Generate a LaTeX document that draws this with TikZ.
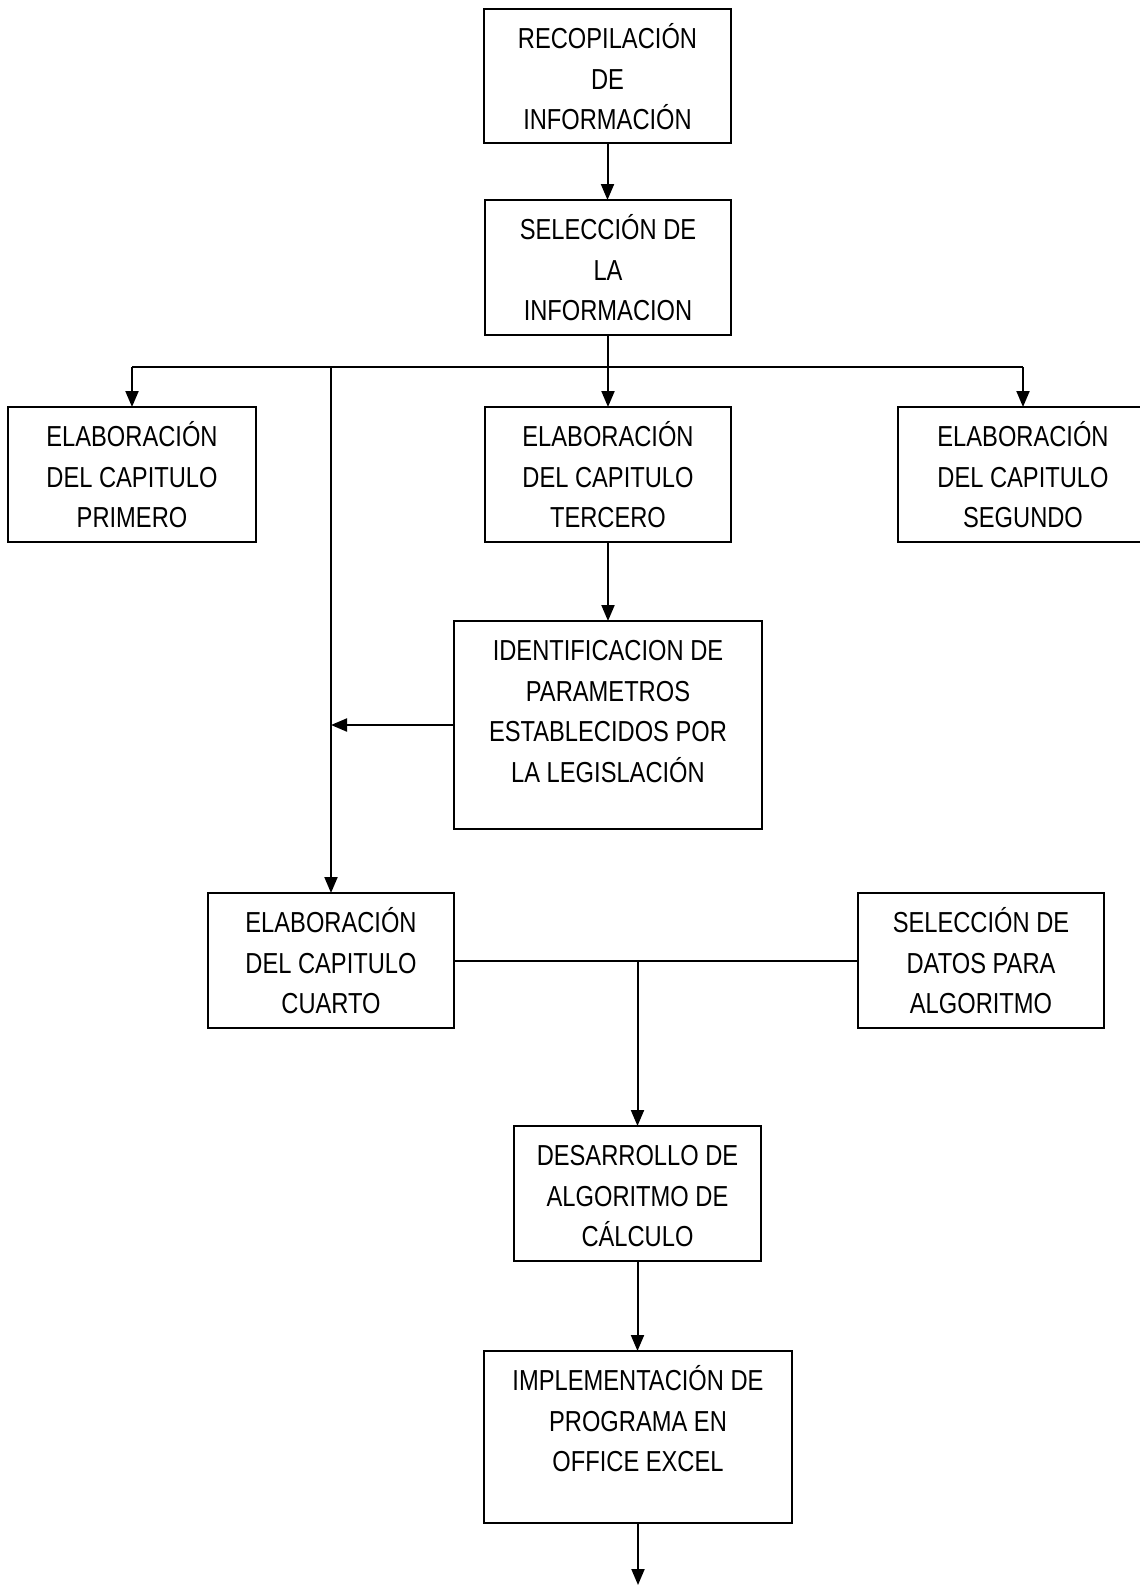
\documentclass[tikz,border=0pt]{standalone}
\usepackage{fontspec}
\setmainfont{Liberation Sans}[FakeStretch=0.82]
\usetikzlibrary{arrows.meta}
\newcommand\boxtxt[1]{\begin{tabular}[t]{@{}c@{}}#1\end{tabular}}
\tikzset{
  flowbox/.style={draw, line width=1pt, inner sep=0pt, outer sep=0pt, anchor=north,
    font=\fontsize{14.45}{20.25}\selectfont, text height=19.75pt},
  conn/.style={line width=1pt},
  arr/.style={conn, -{Triangle[length=8pt,width=6.5pt]}}
}
\begin{document}
\begin{tikzpicture}[x=0.5pt,y=-0.5pt]
\clip (0,0) rectangle (1140,1585);
\fill[white] (0,0) rectangle (1140,1585);

\node[flowbox, minimum width=123.5pt, text depth=47.25pt] (b1) at (607.5,9) {\boxtxt{RECOPILACIÓN\\DE\\INFORMACIÓN}};
\node[flowbox, minimum width=123pt, text depth=47.75pt] (b2) at (608,200) {\boxtxt{SELECCIÓN DE\\LA\\INFORMACION}};
\node[flowbox, minimum width=124pt, text depth=47.75pt] (prim) at (132,407) {\boxtxt{ELABORACIÓN\\DEL CAPITULO\\PRIMERO}};
\node[flowbox, minimum width=123pt, text depth=47.75pt] (terc) at (608,407) {\boxtxt{ELABORACIÓN\\DEL CAPITULO\\TERCERO}};
\node[flowbox, minimum width=125pt, text depth=47.75pt] (seg) at (1023,407) {\boxtxt{ELABORACIÓN\\DEL CAPITULO\\SEGUNDO}};
\node[flowbox, minimum width=154pt, text depth=84.25pt] (ident) at (608,621) {\boxtxt{IDENTIFICACION DE\\PARAMETROS\\ESTABLECIDOS POR\\LA LEGISLACIÓN}};
\node[flowbox, minimum width=123pt, text depth=47.75pt] (cuarto) at (331,893) {\boxtxt{ELABORACIÓN\\DEL CAPITULO\\CUARTO}};
\node[flowbox, minimum width=123pt, text depth=47.75pt] (datos) at (981,893) {\boxtxt{SELECCIÓN DE\\DATOS PARA\\ALGORITMO}};
\node[flowbox, minimum width=123.5pt, text depth=47.75pt] (des) at (637.5,1126) {\boxtxt{DESARROLLO DE\\ALGORITMO DE\\CÁLCULO}};
\node[flowbox, minimum width=154pt, text depth=66.25pt] (impl) at (638,1351) {\boxtxt{IMPLEMENTACIÓN DE\\PROGRAMA EN\\OFFICE EXCEL}};

\coordinate (hy) at (0,367);
\coordinate (endpt) at (638,1585);

\draw[arr] (b1.south) -- (b1.south |- b2.north);
\draw[conn] (b2.south) -- (b2.south |- hy);
\draw[conn] (prim.north |- hy) -- (seg.north |- hy);
\draw[arr] (prim.north |- hy) -- (prim.north);
\draw[arr] (terc.north |- hy) -- (terc.north);
\draw[arr] (seg.north |- hy) -- (seg.north);
\draw[arr] (cuarto.north |- hy) -- (cuarto.north);
\draw[arr] (terc.south) -- (terc.south |- ident.north);
\draw[arr] (ident.west) -- (ident.west -| cuarto.north);
\draw[conn] (cuarto.east) -- (datos.west);
\draw[arr] (des.north |- cuarto.east) -- (des.north);
\draw[arr] (des.south) -- (des.south |- impl.north);
\draw[arr] (impl.south) -- (endpt);
\end{tikzpicture}
\end{document}
